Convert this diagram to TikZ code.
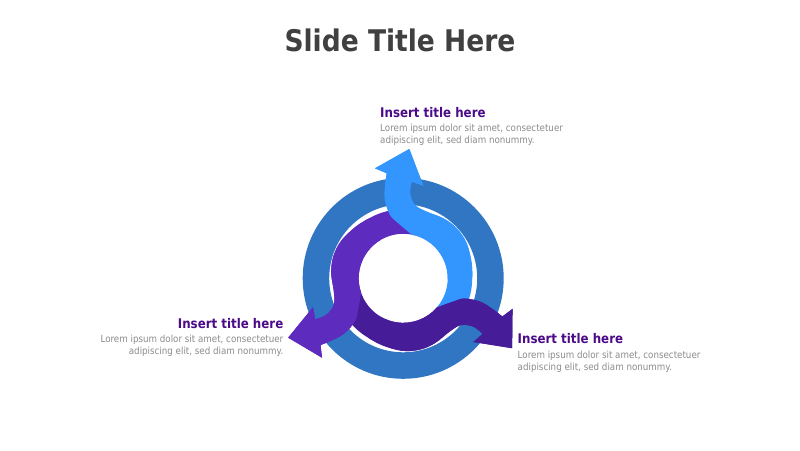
\documentclass[tikz,border=0pt]{standalone}
\usepackage{fontspec}
\setmainfont{DejaVu Sans}[FakeStretch=0.89]
\definecolor{ringc}{HTML}{3176C2}
\definecolor{lblue}{HTML}{3396FF}
\definecolor{purp}{HTML}{5E2BBF}
\definecolor{dpurp}{HTML}{461C99}
\definecolor{ttl}{HTML}{404040}
\definecolor{hdc}{HTML}{4B0A88}
\definecolor{bodyc}{HTML}{8C8C8C}
\def\ArrShape{(6.1,129.3) -- (20.1,92.6) -- plot[smooth,tension=0.6] coordinates {(8.5,96.6) (6.8,85) (11.8,73.3) (23.5,66.6) (40.1,60) (53.5,50) (63.5,35) (68.5,15) (69,0)} arc[start angle=0,end angle=-45,radius=69] -- (-45:44.5) arc[start angle=-45,end angle=79,radius=44.5] -- plot[smooth,tension=0.6] coordinates {(8.5,43.7) (-4.9,55) (-13.2,63.3) (-18.2,78.3) (-18.2,91.6) (-16.5,105)} -- (-28.2,110) -- cycle}
\tikzset{
  headtxt/.style={font=\fontsize{13.3}{14}\selectfont\bfseries, text=hdc, inner sep=0pt},
  bodytxt/.style={font=\fontsize{9.8}{11.7}\selectfont, text=bodyc, inner sep=0pt}
}
\begin{document}
\begin{tikzpicture}[x=1pt,y=1pt]
\useasboundingbox (0,0) rectangle (800,450);
\fill[white] (0,0) rectangle (800,450);
\coordinate (c) at (403.2,171.7);
% outer ring
\fill[ringc,even odd rule] (c) circle[radius=100.5] (c) circle[radius=74];
% arrows: full shapes, then the bend+head part of each again on top
\foreach \ang/\col in {0/lblue,120/purp,240/dpurp}{
  \begin{scope}[shift={(c)},rotate=\ang]
    \fill[\col] \ArrShape;
  \end{scope}
}
\foreach \ang/\col in {0/lblue,120/purp,240/dpurp}{
  \begin{scope}[shift={(c)},rotate=\ang]
    \clip (-170,0) rectangle (170,170);
    \fill[\col] \ArrShape;
  \end{scope}
}
% texts
\node[anchor=base, font=\fontsize{29.8}{30}\selectfont\bfseries, text=ttl, inner sep=0pt] (title) at (400,398.3) {Slide Title Here};
\node[headtxt, anchor=base west] (t1) at (380,332.3) {Insert title here};
\node[bodytxt, anchor=base west] (b1a) at (380,318.3) {Lorem ipsum dolor sit amet, consectetuer};
\node[bodytxt, anchor=base west] (b1b) at (380,306.7) {adipiscing elit, sed diam nonummy.};
\node[headtxt, anchor=base east] (t2) at (283.5,121.7) {Insert title here};
\node[bodytxt, anchor=base east] (b2a) at (283.5,107.7) {Lorem ipsum dolor sit amet, consectetuer};
\node[bodytxt, anchor=base east] (b2b) at (283.5,96) {adipiscing elit, sed diam nonummy.};
\node[headtxt, anchor=base west] (t3) at (517.5,106.7) {Insert title here};
\node[bodytxt, anchor=base west] (b3a) at (517.5,91.7) {Lorem ipsum dolor sit amet, consectetuer};
\node[bodytxt, anchor=base west] (b3b) at (517.5,80) {adipiscing elit, sed diam nonummy.};
\end{tikzpicture}
\end{document}
